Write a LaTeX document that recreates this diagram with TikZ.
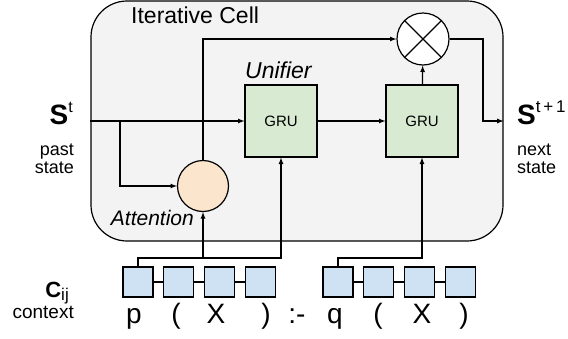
\documentclass[tikz,border=0pt]{standalone}
\usepackage{fontspec}
\setmainfont{Liberation Sans}

\begin{document}
\begin{tikzpicture}[x=1pt,y=-1pt]
    % 定义颜色
    \definecolor{cellgray}{HTML}{F3F3F3}
    \definecolor{grugreen}{HTML}{D9EAD3}
    \definecolor{attpeach}{HTML}{FCE5CD}
    \definecolor{ctxblue}{HTML}{CFE2F3}
    % 自定义命令：指定字号
    \newcommand{\FontAt}[1]{\fontsize{#1}{#1}\selectfont}

    % --- 设置全局样式 ---
    \tikzset{CellStyle/.style = {
        draw=black,             % 边框颜色
        fill=cellgray,          % 填充颜色
        line width=1.2pt,       % 边框粗细
        rounded corners=36pt,   % 圆角
        minimum width=412pt,
        minimum height=240pt,
        inner sep=0pt
    }}
    \tikzset{GruStyle/.style = {
        draw=black, fill=grugreen, line width=1.2pt,
        minimum size=72pt, inner sep=0pt,
        font=\FontAt{15}
    }}
    \tikzset{AttStyle/.style = {
        shape=circle, draw=black, fill=attpeach, line width=1.2pt,
        minimum size=51pt, inner sep=0pt
    }}
    \tikzset{MulStyle/.style = {
        shape=circle, draw=black, fill=white, line width=1.2pt,
        minimum size=52pt, inner sep=0pt
    }}
    \tikzset{BoxStyle/.style = {
        draw=black, fill=ctxblue, line width=1.2pt,
        minimum size=30pt, inner sep=0pt
    }}
    \tikzset{TokStyle/.style = {
        anchor=base, inner sep=0pt, font=\FontAt{28}
    }}
    \tikzset{LabelStyle/.style = {
        inner sep=0pt, font=\FontAt{18}
    }}

    % 连线样式
    \tikzset{FlowStyle/.style = {
        ->,                     % 箭头
        >=latex,                % 箭头形状
        line width=1.2pt,       % 线条粗细
        color=black             % 线条颜色
    }}
    \tikzset{LinkStyle/.style = {line width=1.2pt, color=black}}

    \useasboundingbox (0,0) rectangle (568,338);

    % --- 迭代单元 ---
    \node[CellStyle] (cell) at (297,121) {};
    \node[anchor=base west, inner sep=0pt, font=\FontAt{23}] (celltitle) at (131,23) {Iterative Cell};

    % GRU 与运算节点
    \node[GruStyle] (gru1) at (281,121) {GRU};
    \node[GruStyle] (gru2) at (422,121) {GRU};
    \node[anchor=base west, inner sep=0pt, font=\FontAt{23}\itshape] (unifier) at (245,78) {Unifier};
    \node[MulStyle] (mul) at (423,39) {};
    \draw[LinkStyle] (mul.north west) -- (mul.south east)
                     (mul.north east) -- (mul.south west);
    \node[AttStyle] (att) at (203,186) {};
    \node[anchor=base east, inner sep=0pt, font=\FontAt{21}\itshape] (attlbl) at (194,225) {Attention};

    % --- 左右两侧的状态标签 ---
    \node[anchor=base east, inner sep=0pt] (sin) at (73,124)
        {{\FontAt{28}\bfseries S}\raisebox{12pt}{\FontAt{16}t}};
    \node[LabelStyle, anchor=base east, align=right] (pastlbl) at (74,173)
        {past\\[-0.5pt]state};
    \node[anchor=base west, inner sep=0pt] (sout) at (517,124)
        {{\FontAt{28}\bfseries S}\raisebox{12pt}{\FontAt{17}t\,+\,1}};
    \node[LabelStyle, anchor=base west, align=left] (nextlbl) at (517,173)
        {next\\[-0.5pt]state};

    % --- 上下文 ---
    \node[anchor=base east, inner sep=0pt] (cij) at (69,297)
        {{\FontAt{22}\bfseries C}\raisebox{-3pt}{\FontAt{17}ij}};
    \node[LabelStyle, anchor=base east, font=\FontAt{19}] (ctxlbl) at (74,318) {context};

    \foreach \i in {1,...,4} {
        \node[BoxStyle] (a\i) at ({138+40.7*(\i-1)},282) {};
        \node[BoxStyle] (b\i) at ({338+40.7*(\i-1)},282) {};
    }
    \foreach \i/\t/\x in {1/p/134,2/{(}/176,3/X/216,4/{)}/266} {
        \node[TokStyle] (ta\i) at (\x,323) {\t};
    }
    \foreach \i/\t/\x in {1/q/335,2/{(}/378,3/X/422,4/{)}/464} {
        \node[TokStyle] (tb\i) at (\x,323) {\t};
    }
    \node[TokStyle] (neck) at (297,323) {:-};
    \foreach \i/\j in {1/2,2/3,3/4} {
        \draw[LinkStyle] (a\i.east) -- (a\j.west);
        \draw[LinkStyle] (b\i.east) -- (b\j.west);
    }

    % --- 定义连线 ---
    \coordinate (split) at (120,121);
    \coordinate (turn) at (483,121);
    \coordinate (bus) at (0,258);

    \draw[FlowStyle] (cell.west) -- (gru1.west);     % 过去状态 -> GRU
    \draw[FlowStyle] (split) |- (att.west);          % 过去状态 -> 注意力
    \draw[FlowStyle] (att.north) |- (mul.west);      % 注意力 -> 乘法
    \draw[FlowStyle] (gru1) -- (gru2);
    \draw[FlowStyle] (gru2) -- (mul);
    \draw[FlowStyle] (mul.east) -| (turn) -- (cell.east); % 输出下一状态

    \draw[FlowStyle] (a1.north) -- (a1.north |- bus) -| (gru1.south);
    \draw[FlowStyle] (att.south |- bus) -- (att.south);
    \draw[FlowStyle] (b1.north) -- (b1.north |- bus) -| (gru2.south);

\end{tikzpicture}
\end{document}
